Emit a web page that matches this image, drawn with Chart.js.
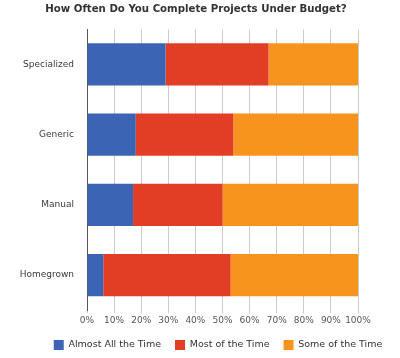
<!DOCTYPE html>
<html>
<head>
<meta charset="utf-8">
<script src="https://cdn.jsdelivr.net/npm/chart.js@4.4.1/dist/chart.umd.min.js"></script>
<style>
  html, body { margin: 0; padding: 0; background: #fff; }
  #wrap { width: 400px; height: 358px; position: relative; }
</style>
</head>
<body>
<div id="wrap"><canvas id="chartBudget"></canvas></div>
<script>
const categories = ['Specialized', 'Generic', 'Manual', 'Homegrown'];
const almostAll = [29, 18, 17, 6];
const mostOf = [38, 36, 33, 47];
const someOf = [33, 46, 50, 47];
const seriesNames = ['Almost All the Time', 'Most of the Time', 'Some of the Time'];

const FONT = "'DejaVu Sans', Verdana, sans-serif";

// title and legend in the original are not centred on the same axis as the plot
const nudgeBoxes = {
    id: 'nudgeBoxes',
    afterLayout(chart) {
        if (chart.titleBlock) { chart.titleBlock.left += 17; chart.titleBlock.right += 17; }
        if (chart.legend) {
            chart.legend.left += 39; chart.legend.right += 39;
            chart.legend.top += 2; chart.legend.bottom += 2;
        }
    }
};

const ctx = document.getElementById('chartBudget').getContext('2d');
new Chart(ctx, {
    type: 'bar',
    data: {
        labels: categories,
        datasets: [
            { label: seriesNames[0], data: almostAll, backgroundColor: '#3c64b4' },
            { label: seriesNames[1], data: mostOf, backgroundColor: '#e23d25' },
            { label: seriesNames[2], data: someOf, backgroundColor: '#f7941d' }
        ]
    },
    options: {
        indexAxis: 'y',
        responsive: true,
        maintainAspectRatio: false,
        animation: false,
        layout: { padding: { left: 0, right: 42, top: 0, bottom: 0 } },
        datasets: { bar: { barPercentage: 0.6, categoryPercentage: 1, borderWidth: 0 } },
        scales: {
            x: {
                stacked: true,
                min: 0,
                max: 100,
                grid: { color: '#cccccc', tickLength: 3 },
                border: { display: false },
                ticks: {
                    stepSize: 10,
                    autoSkip: false,
                    minRotation: 0,
                    maxRotation: 0,
                    color: '#555',
                    font: { family: FONT, size: 9 },
                    padding: 2,
                    callback: v => v + '%'
                },
                afterFit: s => { s.height -= 4; }
            },
            y: {
                stacked: true,
                grid: { display: false, drawTicks: false },
                border: { display: true, color: '#555', width: 1 },
                ticks: { color: '#3a3a3a', font: { family: FONT, size: 9 }, padding: 13 },
                afterFit: s => { s.width = 87; }
            }
        },
        plugins: {
            title: {
                display: true,
                text: 'How Often Do You Complete Projects Under Budget?',
                color: '#333',
                font: { family: FONT, size: 10.2, weight: 'bold' },
                padding: { top: 3, bottom: 14 }
            },
            legend: {
                position: 'bottom',
                labels: {
                    color: '#333',
                    font: { family: FONT, size: 9.5 },
                    boxWidth: 10,
                    boxHeight: 10,
                    padding: 14
                }
            },
            tooltip: { enabled: false }
        }
    },
    plugins: [nudgeBoxes]
});
</script>
</body>
</html>
